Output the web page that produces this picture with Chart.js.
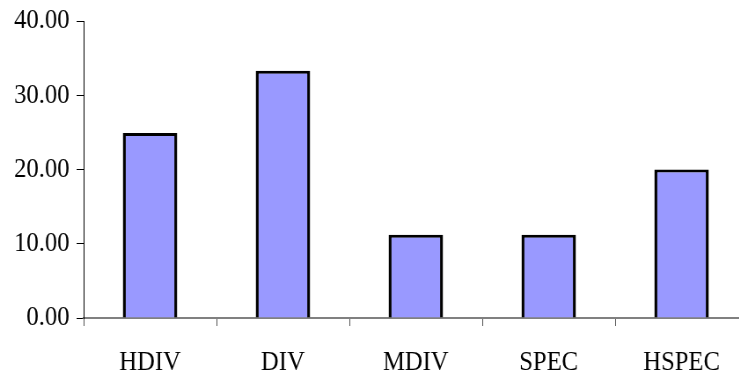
<!DOCTYPE html>
<html>
<head>
<meta charset="utf-8">
<script src="https://cdn.jsdelivr.net/npm/chart.js@4.4.0/dist/chart.umd.min.js"></script>
<style>
  html, body { margin: 0; padding: 0; background: #fff; overflow: hidden; }
  /* chart is drawn wide and squeezed horizontally for the narrow serif look */
  #wrap { width: 850px; height: 376px; transform: scaleX(0.88); transform-origin: 0 0; }
</style>
</head>
<body>
<div id="wrap"><canvas id="barChart" width="850" height="376"></canvas></div>
<script>
// categories and values
const groups = ["HDIV", "DIV", "MDIV", "SPEC", "HSPEC"];
const scores = [24.9, 33.3, 11.2, 11.2, 20.0];
const yMin = 0;
const yMax = 40;
const yStep = 10;

const serif = "'Liberation Serif', 'Times New Roman', serif";
const squeeze = 0.88;

const ctx = document.getElementById("barChart").getContext("2d");
new Chart(ctx, {
    type: "bar",
    data: {
        labels: groups,
        datasets: [{
            data: scores,
            backgroundColor: "#9999ff",
            borderColor: "#000000",
            // sides a bit wider so they stay ~3px after the squeeze
            borderWidth: { top: 3, left: 3.4, right: 3.4, bottom: 0 },
            borderSkipped: "bottom",
            categoryPercentage: 1.0,
            barPercentage: 0.41
        }]
    },
    options: {
        responsive: false,
        animation: false,
        layout: { padding: { left: 0, right: 0, top: 21, bottom: 0 } },
        plugins: {
            legend: { display: false },
            tooltip: { enabled: false }
        },
        scales: {
            x: {
                offset: true,
                grid: {
                    offset: true,
                    drawOnChartArea: false,
                    drawTicks: true,
                    tickLength: 8,
                    color: "#555555",
                    lineWidth: 1
                },
                border: { color: "#808080", width: 2 },
                ticks: {
                    color: "#000000",
                    font: { family: serif, size: 28 },
                    padding: 20,
                    maxRotation: 0
                },
                afterFit(scale){ scale.height = 58; }
            },
            y: {
                min: yMin,
                max: yMax,
                grid: {
                    drawOnChartArea: false,
                    drawTicks: true,
                    tickLength: 8,
                    color: "#000000",
                    lineWidth: 1
                },
                border: { color: "#000000", width: 1 },
                ticks: {
                    stepSize: yStep,
                    color: "#000000",
                    font: { family: serif, size: 28 },
                    padding: 8,
                    callback: v => v.toFixed(2)
                },
                afterFit(scale){
                    scale.width = Math.round(84 / squeeze);
                    scale.paddingTop = 0;
                    scale.paddingBottom = 0;
                }
            }
        }
    }
});
</script>
</body>
</html>
